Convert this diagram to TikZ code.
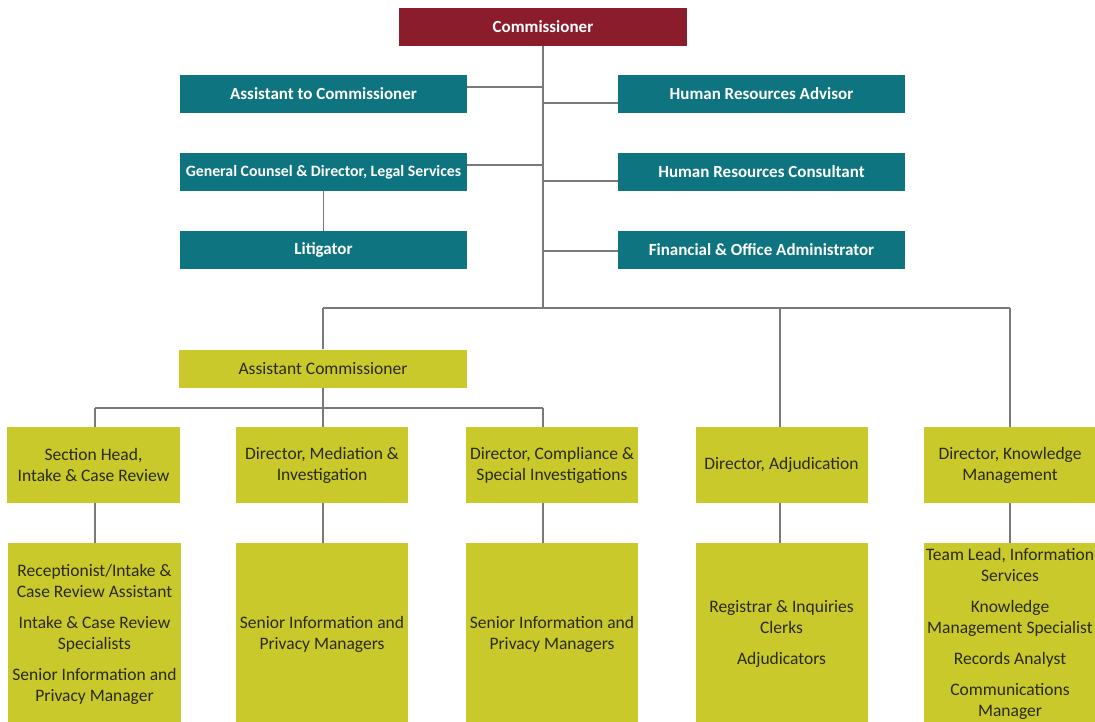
\documentclass[tikz,border=0pt]{standalone}
\usepackage{fontspec}
\setmainfont{Carlito}
\definecolor{cRed}{HTML}{8B1C2B}
\definecolor{cTeal}{HTML}{0E7580}
\definecolor{cOlive}{HTML}{C9C92B}
\definecolor{cLine}{HTML}{7A7A7A}
\definecolor{cText}{HTML}{2A2A10}
\begin{document}
\begin{tikzpicture}[x=1pt,y=-1pt,
  box/.style={rectangle,inner sep=0pt,align=center},
  redbox/.style={box,fill=cRed,text=white,minimum width=288pt,minimum height=38pt,font=\bfseries\fontsize{17}{20}\selectfont},
  tealbox/.style={box,fill=cTeal,text=white,minimum width=287pt,minimum height=38pt,font=\bfseries\fontsize{17}{20}\selectfont},
  olivebox/.style={box,fill=cOlive,text=cText,font=\fontsize{17.5}{21}\selectfont},
  lvthree/.style={olivebox,minimum width=172pt,minimum height=76pt},
  lvfour/.style={olivebox,minimum width=172pt,minimum height=182pt},
  conn/.style={draw=cLine,line width=1.4pt}]
\useasboundingbox (0,0) rectangle (1095,721);
% nodes
\node[redbox] (comm) at (543,27) {Commissioner};
\node[tealbox] (atc) at (323.5,94) {Assistant to Commissioner};
\node[tealbox] (hra) at (761.5,94) {Human Resources Advisor};
\node[tealbox,font=\bfseries\fontsize{15.8}{18}\selectfont] (gc) at (323.5,172) {General Counsel \& Director, Legal Services};
\node[tealbox] (hrc) at (761.5,172) {Human Resources Consultant};
\node[tealbox] (lit) at (323.5,250) {Litigator};
\node[tealbox] (fin) at (761.5,250) {Financial \& Office Administrator};
\node[olivebox,minimum width=288pt,minimum height=38pt] (ac) at (323,368.5) {Assistant Commissioner};
\coordinate (trunk) at (543,308);
\coordinate (acbus) at (323,408);
% level 3
\node[lvthree,minimum width=173pt] (sh) at (93.5,465) {Section Head,\\Intake \& Case Review};
\node[lvthree] (med) at (322,465) {Director, Mediation \&\\Investigation};
\node[lvthree] (comp) at (552,465) {Director, Compliance \&\\Special Investigations};
\node[lvthree] (adj) at (781.5,465) {Director, Adjudication};
\node[lvthree] (km) at (1010,465) {Director, Knowledge\\Management};
% level 4
\node[lvfour,minimum width=173pt] (r1) at (94.5,634) {Receptionist/Intake \&\\Case Review Assistant\\[10pt]Intake \& Case Review\\Specialists\\[10pt]Senior Information and\\Privacy Manager};
\node[lvfour] (r2) at (322,634) {Senior Information and\\Privacy Managers};
\node[lvfour] (r3) at (552,634) {Senior Information and\\Privacy Managers};
\node[lvfour] (r4) at (781.5,634) {Registrar \& Inquiries\\Clerks\\[10pt]Adjudicators};
\node[lvfour] (r5) at (1010,634) {Team Lead, Information\\Services\\[10pt]Knowledge\\Management Specialist\\[10pt]Records Analyst\\[10pt]Communications\\Manager};
% connectors
\draw[conn] (comm.south) -- (trunk);
\draw[conn] (atc.east |- 0,87) -- (543,87);
\draw[conn] (hra.west |- 0,103) -- (543,103);
\draw[conn] (gc.east |- 0,165) -- (543,165);
\draw[conn] (hrc.west |- 0,181) -- (543,181);
\draw[conn] (fin.west |- 0,251) -- (543,251);
\draw[conn] (gc.south) -- (lit.north);
\draw[conn] (ac.north |- trunk) -- (1010,308);
\draw[conn] (ac.north |- trunk) -- (ac.north);
\draw[conn] (780,308) -- (780,427);
\draw[conn] (1010,308) -- (km.north);
\draw[conn] (ac.south) -- (acbus);
\draw[conn] (95,408) -- (543,408);
\draw[conn] (95,408) -- (95,427);
\draw[conn] (acbus) -- (323,427);
\draw[conn] (543,408) -- (543,427);
\draw[conn] (95,503) -- (95,543);
\draw[conn] (323,503) -- (323,543);
\draw[conn] (543,503) -- (543,543);
\draw[conn] (780,503) -- (780,543);
\draw[conn] (1010,503) -- (1010,543);
\end{tikzpicture}
\end{document}
